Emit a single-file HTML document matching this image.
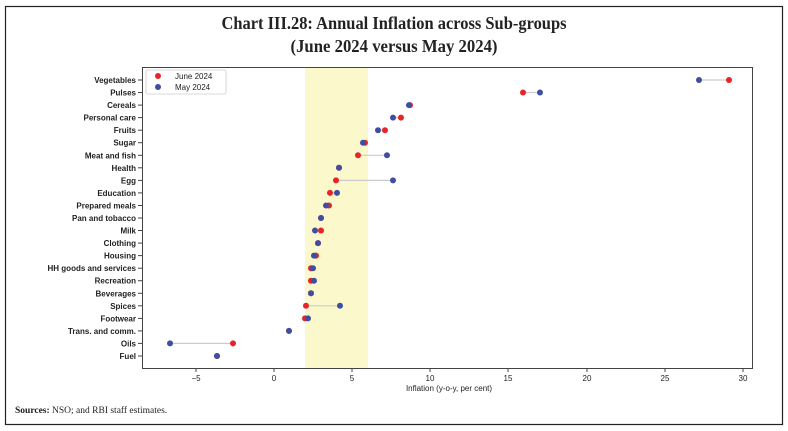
<!DOCTYPE html>
<html><head><meta charset="utf-8"><style>
body{margin:0;background:#fff}
svg{display:block}
</style></head><body>
<svg width="788" height="431" xmlns="http://www.w3.org/2000/svg">
<rect x="5.5" y="6.5" width="777" height="418" fill="none" stroke="#222" stroke-width="1.2"/>
<g font-family="Liberation Serif, serif" font-weight="bold" font-size="18" fill="#222" text-anchor="middle">
<text x="394" y="29" textLength="345" lengthAdjust="spacingAndGlyphs">Chart III.28: Annual Inflation across Sub-groups</text>
<text x="394" y="52" textLength="207" lengthAdjust="spacingAndGlyphs">(June 2024 versus May 2024)</text>
</g>
<rect x="305" y="67" width="63" height="301" fill="#fbf8cc"/>
<rect x="142.5" y="67.5" width="610" height="301" fill="none" stroke="#444" stroke-width="1"/>
<g stroke="#ccc" stroke-width="1.2">
<line x1="699" y1="80" x2="729" y2="80"/>
<line x1="523" y1="92.5" x2="540" y2="92.5"/>
<line x1="393" y1="117.6" x2="401" y2="117.6"/>
<line x1="378" y1="130.2" x2="385" y2="130.2"/>
<line x1="358" y1="155.3" x2="387" y2="155.3"/>
<line x1="336" y1="180.4" x2="393" y2="180.4"/>
<line x1="330" y1="192.9" x2="337" y2="192.9"/>
<line x1="315" y1="230.5" x2="321" y2="230.5"/>
<line x1="306" y1="305.8" x2="340" y2="305.8"/>
<line x1="170" y1="343.4" x2="233" y2="343.4"/>
</g>
<g fill="#e8242a">
<circle cx="729" cy="80" r="3"/><circle cx="523" cy="92.5" r="3"/><circle cx="410" cy="105.1" r="3"/><circle cx="401" cy="117.6" r="3"/><circle cx="385" cy="130.2" r="3"/><circle cx="365" cy="142.7" r="3"/><circle cx="358" cy="155.3" r="3"/><circle cx="339" cy="167.8" r="3"/><circle cx="336" cy="180.4" r="3"/><circle cx="330" cy="192.9" r="3"/><circle cx="329" cy="205.5" r="3"/><circle cx="321" cy="218" r="3"/><circle cx="321" cy="230.5" r="3"/><circle cx="318" cy="243.1" r="3"/><circle cx="316" cy="255.6" r="3"/><circle cx="311" cy="268.2" r="3"/><circle cx="311" cy="280.7" r="3"/><circle cx="311" cy="293.3" r="3"/><circle cx="306" cy="305.8" r="3"/><circle cx="305" cy="318.4" r="3"/><circle cx="289" cy="330.9" r="3"/><circle cx="233" cy="343.4" r="3"/><circle cx="217" cy="356" r="3"/>
</g>
<g fill="#3f4ea0">
<circle cx="699" cy="80" r="3"/><circle cx="540" cy="92.5" r="3"/><circle cx="409" cy="105.1" r="3"/><circle cx="393" cy="117.6" r="3"/><circle cx="378" cy="130.2" r="3"/><circle cx="363" cy="142.7" r="3"/><circle cx="387" cy="155.3" r="3"/><circle cx="339" cy="167.8" r="3"/><circle cx="393" cy="180.4" r="3"/><circle cx="337" cy="192.9" r="3"/><circle cx="326" cy="205.5" r="3"/><circle cx="321" cy="218" r="3"/><circle cx="315" cy="230.5" r="3"/><circle cx="318" cy="243.1" r="3"/><circle cx="314" cy="255.6" r="3"/><circle cx="313" cy="268.2" r="3"/><circle cx="314" cy="280.7" r="3"/><circle cx="311" cy="293.3" r="3"/><circle cx="340" cy="305.8" r="3"/><circle cx="308" cy="318.4" r="3"/><circle cx="289" cy="330.9" r="3"/><circle cx="170" cy="343.4" r="3"/><circle cx="217" cy="356" r="3"/>
</g>
<g stroke="#444">
<line x1="138" y1="80" x2="142" y2="80"/><line x1="138" y1="92.5" x2="142" y2="92.5"/><line x1="138" y1="105.1" x2="142" y2="105.1"/><line x1="138" y1="117.6" x2="142" y2="117.6"/><line x1="138" y1="130.2" x2="142" y2="130.2"/><line x1="138" y1="142.7" x2="142" y2="142.7"/><line x1="138" y1="155.3" x2="142" y2="155.3"/><line x1="138" y1="167.8" x2="142" y2="167.8"/><line x1="138" y1="180.4" x2="142" y2="180.4"/><line x1="138" y1="192.9" x2="142" y2="192.9"/><line x1="138" y1="205.5" x2="142" y2="205.5"/><line x1="138" y1="218" x2="142" y2="218"/><line x1="138" y1="230.5" x2="142" y2="230.5"/><line x1="138" y1="243.1" x2="142" y2="243.1"/><line x1="138" y1="255.6" x2="142" y2="255.6"/><line x1="138" y1="268.2" x2="142" y2="268.2"/><line x1="138" y1="280.7" x2="142" y2="280.7"/><line x1="138" y1="293.3" x2="142" y2="293.3"/><line x1="138" y1="305.8" x2="142" y2="305.8"/><line x1="138" y1="318.4" x2="142" y2="318.4"/><line x1="138" y1="330.9" x2="142" y2="330.9"/><line x1="138" y1="343.4" x2="142" y2="343.4"/><line x1="138" y1="356" x2="142" y2="356"/>
</g>
<g font-family="Liberation Sans, sans-serif" font-size="8" fill="#222" text-anchor="end" font-weight="bold">
<text x="136" y="83">Vegetables</text><text x="136" y="95.5">Pulses</text><text x="136" y="108.1">Cereals</text><text x="136" y="120.6">Personal care</text><text x="136" y="133.2">Fruits</text><text x="136" y="145.7">Sugar</text><text x="136" y="158.3">Meat and fish</text><text x="136" y="170.8">Health</text><text x="136" y="183.4">Egg</text><text x="136" y="195.9">Education</text><text x="136" y="208.5">Prepared meals</text><text x="136" y="221">Pan and tobacco</text><text x="136" y="233.5">Milk</text><text x="136" y="246.1">Clothing</text><text x="136" y="258.6">Housing</text><text x="136" y="271.2">HH goods and services</text><text x="136" y="283.7">Recreation</text><text x="136" y="296.3">Beverages</text><text x="136" y="308.8">Spices</text><text x="136" y="321.4">Footwear</text><text x="136" y="333.9">Trans. and comm.</text><text x="136" y="346.4">Oils</text><text x="136" y="359">Fuel</text>
</g>
<g font-family="Liberation Sans, sans-serif" font-size="8" fill="#222" text-anchor="middle">
<g stroke="#444"><line x1="196" y1="368" x2="196" y2="372"/><line x1="274" y1="368" x2="274" y2="372"/><line x1="352" y1="368" x2="352" y2="372"/><line x1="430" y1="368" x2="430" y2="372"/><line x1="508" y1="368" x2="508" y2="372"/><line x1="587" y1="368" x2="587" y2="372"/><line x1="665" y1="368" x2="665" y2="372"/><line x1="743" y1="368" x2="743" y2="372"/></g>
<text x="196" y="381">−5</text><text x="274" y="381">0</text><text x="352" y="381">5</text><text x="430" y="381">10</text><text x="508" y="381">15</text><text x="587" y="381">20</text><text x="665" y="381">25</text><text x="743" y="381">30</text>
<text x="449" y="391">Inflation (y-o-y, per cent)</text>
</g>
<rect x="146" y="70" width="80" height="24" fill="#fff" stroke="#ccc" stroke-width="0.8" rx="2"/>
<circle cx="158" cy="76" r="3" fill="#e8242a"/><circle cx="158" cy="87" r="3" fill="#3f4ea0"/>
<g font-family="Liberation Sans, sans-serif" font-size="8" fill="#222"><text x="175" y="79">June 2024</text><text x="175" y="90">May 2024</text></g>
<text x="15" y="413" font-family="Liberation Serif, serif" font-size="9.5" fill="#222"><tspan font-weight="bold">Sources:</tspan> NSO; and RBI staff estimates.</text>
</svg>
</body></html>
